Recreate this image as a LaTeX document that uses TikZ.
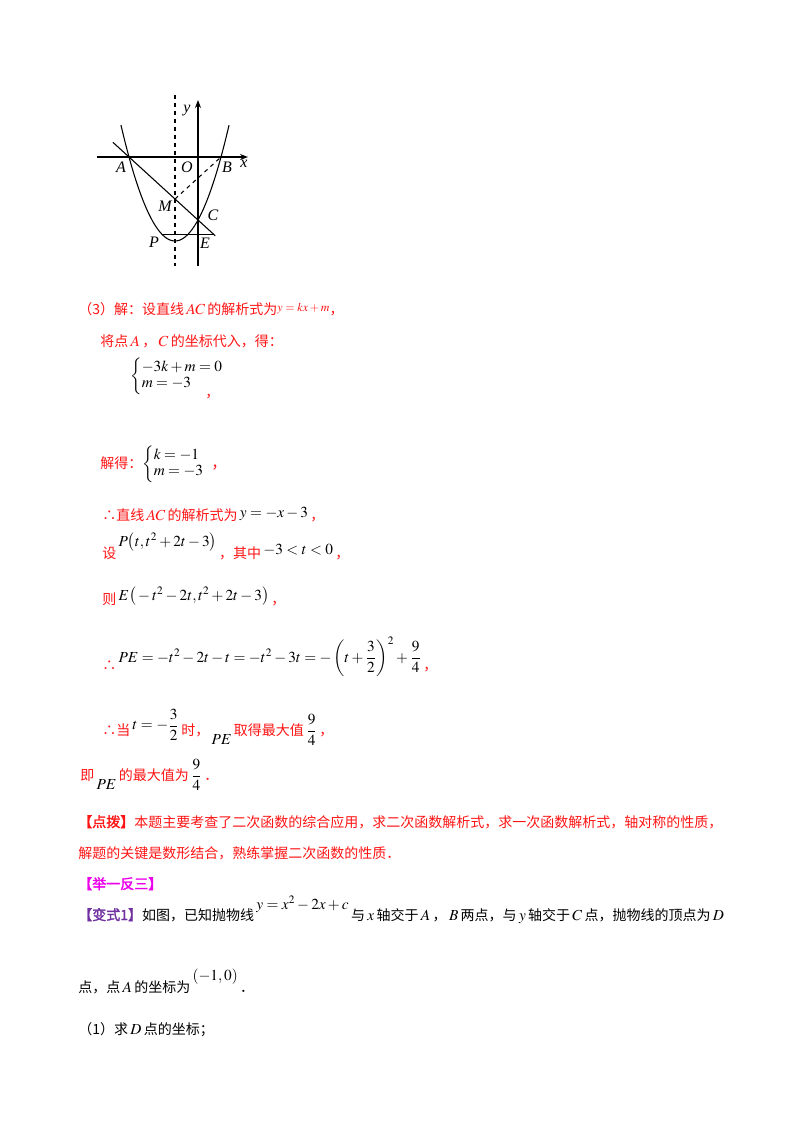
\documentclass[tikz,border=0pt]{standalone}
\usetikzlibrary{arrows.meta}
\usepackage{amsmath}
\usepackage{mathptmx}
\usepackage{fontspec}
\setmainfont{Noto Sans CJK SC}[AutoFakeBold=2]
\newfontfamily\tms{Liberation Serif}
\definecolor{myred}{RGB}{255,20,20}
\definecolor{mymag}{RGB}{235,0,235}
\definecolor{mypur}{RGB}{112,48,160}
\newcommand{\mth}[1]{\,{\fontsize{11.5}{12}\selectfont$#1$}\,}
\tikzset{txt/.style={anchor=base west,inner sep=0pt,font=\fontsize{10.5}{12}\selectfont},
 lbl/.style={inner sep=0pt,font=\tms\itshape\fontsize{12}{12}\selectfont},
 fig/.style={line width=0.8pt}}
\begin{document}
\begin{tikzpicture}[x=0.75pt,y=-0.75pt]
\useasboundingbox (0,0) rectangle (800,1132);
% figure
\coordinate (O) at (198,157);
\coordinate (A) at ({198-3*23},157);
\coordinate (B) at ({198+23},157);
\coordinate (C) at (198,{157+3*21});
\coordinate (M) at ({198-23},{157+2*21});
\coordinate (P) at ({198-1.55*23},{157+3.6975*21});
\coordinate (E) at ({198+0.6975*23},{157+3.6975*21});
\coordinate (L1) at ({198-3.7*23},{157-0.7*21});
\coordinate (L2) at ({198+0.75*23},{157+3.75*21});
\draw[fig,-{Stealth[length=6pt]}] (97,157) -- (248,157);
\draw[fig,-{Stealth[length=6pt]}] (198,266) -- (198,100);
\draw[fig,dashed] (175,95) -- (175,266);
\draw[fig] plot[domain=-3.35:1.35,samples=80,smooth] ({198+23*\x},{157-21*(\x*\x+2*\x-3)});
\draw[fig] (L1) -- (L2);
\draw[fig,dashed] (M) -- (B);
\draw[fig] (P) -- (E);
\node[lbl] (ly) at (187,111) {y};
\node[lbl] (lx) at (244,164) {x};
\node[lbl] (lO) at (187,167) {O};
\node[lbl] (lA) at (121,167) {A};
\node[lbl] (lB) at (227,167) {B};
\node[lbl] (lM) at (165,206) {M};
\node[lbl] (lC) at (213,215) {C};
\node[lbl] (lP) at (154,242) {P};
\node[lbl] (lE) at (205,243) {E};
% text
\begin{scope}[every node/.style={txt,text=myred}]
\node (t1) at (78,314) {（3）解：设直线\mth{AC}的解析式为\raisebox{2pt}{\small$y=kx+m$}，};
\node (t2) at (100,346) {将点\mth{A}，\mth{C}的坐标代入，得：};
\node (t3) at (130,380) {\color{black}\fontsize{11.5}{12}\selectfont$\left\{\begin{array}{@{}l}-3k+m=0\\ m=-3\end{array}\right.$};
\node (t3c) at (205,397) {，};
\node (t4) at (100,468) {解得：\color{black}\fontsize{11.5}{12}\selectfont$\left\{\begin{array}{@{}l}k=-1\\ m=-3\end{array}\right.$\color{myred}，};
\node (t5) at (102,520) {∴直线\mth{AC}的解析式为\color{black}\raisebox{2pt}{\mth{y=-x-3}}\color{myred}，};
\node (t6) at (102,558) {设\color{black}\raisebox{9pt}{\mth{P\big(t,t^2+2t-3\big)}}\color{myred}，其中\color{black}\raisebox{3pt}{\mth{-3<t<0}}\color{myred}，};
\node (t7) at (102,604) {则\color{black}\raisebox{3pt}{\mth{E\big(-t^2-2t,t^2+2t-3\big)}}\color{myred}，};
\node (t8) at (102,670) {∴\color{black}\raisebox{6pt}{\mth{PE=-t^2-2t-t=-t^2-3t=-\left(t+\dfrac{3}{2}\right)^{2}+\dfrac{9}{4}}}\color{myred}，};
\node (t9) at (102,735) {∴当\color{black}\raisebox{4pt}{\mth{t=-\dfrac{3}{2}}}\color{myred}时，\color{black}\raisebox{-7pt}{\mth{PE}}\color{myred}取得最大值\color{black}\mth{\dfrac{9}{4}}\color{myred}，};
\node (t10) at (80,780) {即\color{black}\raisebox{-7pt}{\mth{PE}}\color{myred}的最大值为\color{black}\mth{\dfrac{9}{4}}\color{myred}．};
\node (t11) at (78,827) {\bfseries 【点拨】\mdseries 本题主要考查了二次函数的综合应用，求二次函数解析式，求一次函数解析式，轴对称的性质，};
\node (t12) at (78,858) {解题的关键是数形结合，熟练掌握二次函数的性质．};
\end{scope}
\node[txt,text=mymag] (t13) at (78,889) {\bfseries 【举一反三】};
\node[txt] (t14) at (78,920) {\color{mypur}\bfseries 【变式1】\mdseries\color{black}如图，已知抛物线\raisebox{8pt}{\mth{y=x^2-2x+c}}与\mth{x}轴交于\mth{A}，\mth{B}两点，与\mth{y}轴交于\mth{C}点，抛物线的顶点为\mth{D}};
\node[txt] (t15) at (78,992) {点，点\mth{A}的坐标为\raisebox{9pt}{\mth{(-1,0)}}．};
\node[txt] (t16) at (78,1034) {（1）求\mth{D}点的坐标；};
\end{tikzpicture}
\end{document}
